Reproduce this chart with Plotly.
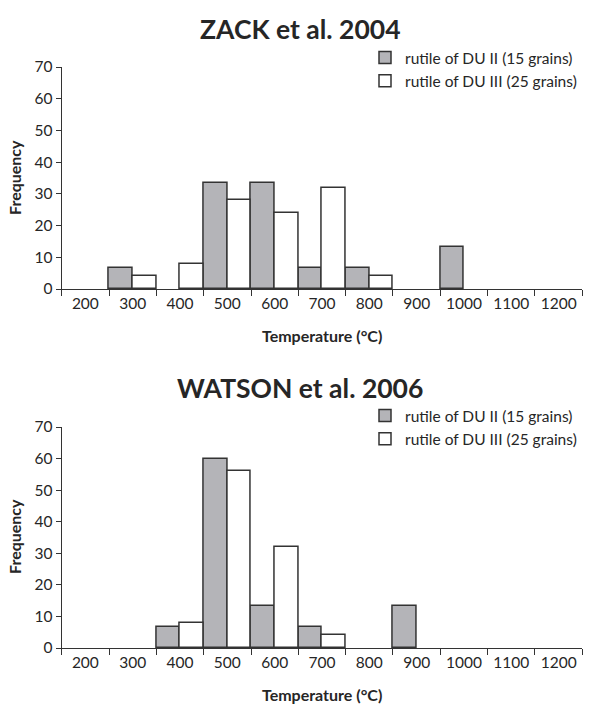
import plotly.graph_objects as go

categories = ["200", "300", "400", "500", "600", "700", "800", "900", "1000", "1100", "1200"]
zack_du2 = [0, 6.67, 0, 33.33, 33.33, 6.67, 6.67, 0, 13.33, 0, 0]
zack_du3 = [0, 4, 8, 28, 24, 32, 4, 0, 0, 0, 0]
watson_du2 = [0, 0, 6.67, 60, 13.33, 6.67, 0, 13.33, 0, 0, 0]
watson_du3 = [0, 0, 8, 56, 32, 4, 0, 0, 0, 0, 0]
name_du2 = "rutile of DU II (15 grains)"
name_du3 = "rutile of DU III (25 grains)"
titles = ["ZACK et al. 2004", "WATSON et al. 2006"]

W, H = 593, 706
FONT = "Lato"
TXT = "#262626"
LINE = "#333333"
GRAY = "#b4b4b8"

def py(v):
    return 1 - v / H

def nz(vals):
    return [v if v else None for v in vals]

fig = go.Figure()
fig.add_trace(go.Bar(x=categories, y=nz(zack_du2), name=name_du2, marker=dict(color=GRAY, line=dict(color=LINE, width=1.5)),
                     xaxis="x", yaxis="y", legend="legend"))
fig.add_trace(go.Bar(x=categories, y=nz(zack_du3), name=name_du3, marker=dict(color="white", line=dict(color=LINE, width=1.5)),
                     xaxis="x", yaxis="y", legend="legend"))
fig.add_trace(go.Bar(x=categories, y=nz(watson_du2), name=name_du2, marker=dict(color=GRAY, line=dict(color=LINE, width=1.5)),
                     xaxis="x2", yaxis="y2", legend="legend2"))
fig.add_trace(go.Bar(x=categories, y=nz(watson_du3), name=name_du3, marker=dict(color="white", line=dict(color=LINE, width=1.5)),
                     xaxis="x2", yaxis="y2", legend="legend2"))

xdom = [61.7 / W, 582.3 / W]
ydom1 = [py(289), py(67)]
ydom2 = [py(648), py(427)]

xcommon = dict(type="category", tickson="boundaries", ticks="outside", ticklen=6, tickwidth=1.3,
               tickcolor=LINE, showline=True, linecolor=LINE, linewidth=1.3, showgrid=False,
               zeroline=False, automargin=False, domain=xdom,
               tickfont=dict(family=FONT, size=15.5, color=TXT), range=[-0.5, 10.5])
ycommon = dict(range=[0, 70], dtick=10, ticks="outside", ticklen=5, tickwidth=1.3, tickcolor=LINE,
               showline=True, linecolor=LINE, linewidth=1.3, showgrid=False, zeroline=False,
               automargin=False, tickfont=dict(family=FONT, size=15.5, color=TXT))

legcommon = dict(font=dict(family=FONT, size=15.5, color=TXT), bgcolor="rgba(0,0,0,0)",
                 xanchor="left", yanchor="top", tracegroupgap=0, itemwidth=30)

fig.update_layout(
    width=W, height=H, margin=dict(l=0, r=0, t=0, b=0),
    paper_bgcolor="white", plot_bgcolor="white",
    barmode="group", bargap=0, bargroupgap=0,
    xaxis=dict(anchor="y", **xcommon),
    yaxis=dict(anchor="x", domain=ydom1, **ycommon),
    xaxis2=dict(anchor="y2", **xcommon),
    yaxis2=dict(anchor="x2", domain=ydom2, **ycommon),
    legend=dict(x=365 / W, y=py(41), **legcommon),
    legend2=dict(x=365 / W, y=py(399), **legcommon),
)

annotations = []
for t, yc in zip(titles, [29, 388]):
    annotations.append(dict(text="<b>%s</b>" % t, x=300 / W, y=py(yc), xref="paper", yref="paper",
                            showarrow=False, font=dict(family=FONT, size=26.5, color=TXT),
                            xanchor="center", yanchor="middle"))
for yc_x, yc_f in [(335, 178), (694, 537)]:
    annotations.append(dict(text="<b>Temperature (°C)</b>", x=322 / W, y=py(yc_x), xref="paper", yref="paper",
                            showarrow=False, font=dict(family=FONT, size=16, color=TXT),
                            xanchor="center", yanchor="middle"))
    annotations.append(dict(text="<b>Frequency</b>", x=14 / W, y=py(yc_f), xref="paper", yref="paper",
                            showarrow=False, textangle=-90, font=dict(family=FONT, size=16, color=TXT),
                            xanchor="center", yanchor="middle"))
fig.update_layout(annotations=annotations)

fig.write_html("out.html")
